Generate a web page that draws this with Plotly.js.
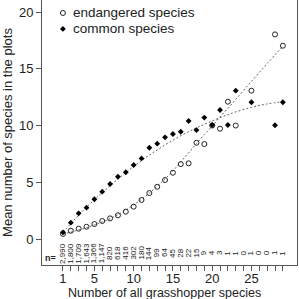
<!DOCTYPE html>
<html><head><meta charset="utf-8">
<script src="https://cdn.plot.ly/plotly-3.0.1.min.js"></script>
<style>html,body{margin:0;padding:0;background:#fff}#c{width:299px;height:299px}</style>
</head><body><div id="c"></div>
<script>
// Data
const xEnd = [1,2,3,4,5,6,7,8,9,10,11,12,13,14,15,16,17,18,19,20,21,22,23,25,28,29];
const yEnd = [0.45,0.73,0.91,1.08,1.32,1.59,1.82,2.09,2.41,2.85,3.44,4.05,4.6,5.2,5.84,6.6,6.67,8.48,8.37,10.0,9.72,12.1,10.0,13.07,18.03,17.03];
const xCom = [1,2,3,4,5,6,7,8,9,10,11,12,13,14,15,16,17,18,19,20,21,22,23,25,28,29];
const yCom = [0.59,1.44,2.26,2.76,3.5,4.17,4.85,5.49,5.88,6.52,7.1,8.04,8.4,8.96,9.25,9.45,10.4,9.6,10.7,10.05,11.37,10.05,13.07,12.05,10.02,12.05];
// fitted (dashed) curves
const fitX = [1,2,3,4,5,6,7,8,9,10,11,12,13,14,15,16,17,18,19,20,21,22,23,25,27,29];
const fitEnd = [0.45,0.6,0.8,1.0,1.25,1.5,1.8,2.15,2.55,3.0,3.5,4.05,4.65,5.3,6.0,6.8,7.6,8.4,9.2,9.95,10.75,11.5,12.3,13.9,15.45,17.0];
const fitCom = [0.6,1.35,2.1,2.8,3.45,4.1,4.7,5.3,5.85,6.4,6.9,7.4,7.85,8.3,8.7,9.1,9.45,9.8,10.1,10.4,10.7,10.95,11.2,11.6,11.9,12.1];
const nX = [1,2,3,4,5,6,7,8,9,10,11,12,13,14,15,16,17,18,19,20,21,22,23,24,25,26,27,28,29];
const nLabels = ["2,990","1,800","1,709","1,643","1,366","1,147","820","618","416","302","180","144","99","64","45","28","22","15","9","4","3","1","1","0","1","0","0","1","1"];
const xTickVals = [1,2,3,4,5,6,7,8,9,10,11,12,13,14,15,16,17,18,19,20,21,22,23,24,25,26,27,28,29];
const xTickShown = [1,5,10,15,20,25];
const legendNames = ["endangered species","common species"];
const xTitle = 'Number of all grasshopper species';
const yTitle = 'Mean number of species in the plots';

const F = "Liberation Sans, Arial, sans-serif";
const TC = '#222';
const dashStyle = {color:'#666', width:1, dash:'2px,2px', shape:'spline'};
const endMarker = {symbol:'circle-open', size:5, color:'#222', line:{width:1,color:'#222'}};
const comMarker = {symbol:'diamond', size:4.5, color:'#000'};
// legend placement (paper fractions of the plot area)
const legX = 0.082, legTextX = 0.114, legY = [0.951, 0.891];

const traces = [
  {x: fitX, y: fitEnd, mode:'lines', line: dashStyle, showlegend:false, hoverinfo:'skip'},
  {x: fitX, y: fitCom, mode:'lines', line: dashStyle, showlegend:false, hoverinfo:'skip'},
  {x: xEnd, y: yEnd, mode:'markers', name:legendNames[0], marker:endMarker, showlegend:false},
  {x: xCom, y: yCom, mode:'markers', name:legendNames[1], marker:comMarker, showlegend:false},
  // legend keys drawn on an overlay axis spanning the plot area
  {x:[legX], y:[legY[0]], xaxis:'x2', yaxis:'y2', mode:'markers', marker:endMarker, showlegend:false},
  {x:[legX], y:[legY[1]], xaxis:'x2', yaxis:'y2', mode:'markers', marker:comMarker, showlegend:false}
];
const annotations = nX.map((x,i)=>({x:x, y:-1.23, xref:'x', yref:'y', text:nLabels[i], textangle:-90,
  showarrow:false, font:{family:F, size:8, color:TC}, xanchor:'center', yanchor:'middle'}));
annotations.push({x:-0.53, y:-1.67, xref:'x', yref:'y', text:'<b>n=</b>', showarrow:false,
  font:{family:F, size:9, color:TC}});
legendNames.forEach((t,i)=>annotations.push({x:legTextX, y:legY[i], xref:'paper', yref:'paper', text:t,
  showarrow:false, xanchor:'left', yanchor:'middle', font:{family:F, size:13.5, color:TC}}));
// x-axis title placed below the tick labels
annotations.push({x:0.48, y:-0.106, xref:'paper', yref:'paper', text:xTitle, showarrow:false,
  xanchor:'center', yanchor:'middle', font:{family:F, size:12.5, color:TC}});

const layout = {
  width:299, height:299, margin:{l:42, r:2, t:0, b:34},
  paper_bgcolor:'#fff', plot_bgcolor:'#fff',
  font:{family:F, size:13, color:TC},
  showlegend:false,
  xaxis:{range:[-1.67,30.8], showgrid:false, zeroline:false, showline:true, linecolor:'#555', linewidth:1,
         ticks:'outside', ticklen:5, tickcolor:'#555', tickvals:xTickVals,
         ticktext:xTickVals.map(v=>xTickShown.includes(v)?String(v):''),
         ticklabelstandoff:-4,
         tickfont:{family:F,size:13,color:TC}},
  yaxis:{range:[-2.29,21.06], showgrid:false, zeroline:false, showline:true, mirror:true, linecolor:'#555', linewidth:1,
         ticks:'outside', ticklen:5, tickcolor:'#555', tickvals:[0,5,10,15,20],
         tickfont:{family:F,size:13,color:TC},
         title:{text:yTitle, font:{family:F,size:13,color:TC}}},
  xaxis2:{overlaying:'x', range:[0,1], visible:false, fixedrange:true},
  yaxis2:{overlaying:'y', range:[0,1], visible:false, fixedrange:true},
  annotations: annotations
};
Plotly.newPlot('c', traces, layout, {staticPlot:true, displayModeBar:false});
</script></body></html>
